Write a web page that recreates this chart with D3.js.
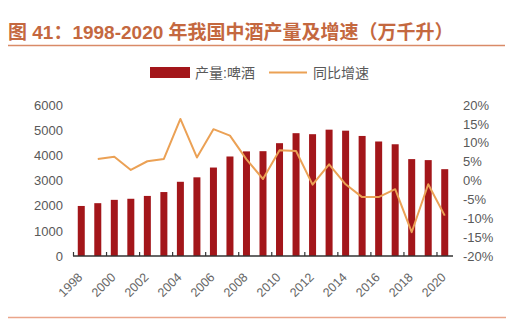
<!DOCTYPE html>
<html>
<head>
<meta charset="utf-8">
<script src="https://cdn.jsdelivr.net/npm/d3@7"></script>
<style>
  html, body { margin: 0; padding: 0; background: #fff; }
  svg { display: block; }
</style>
</head>
<body>
<svg id="chart" width="510" height="328"></svg>
<script>
// Beer output (万千升) and year-on-year growth (%), 1998–2020
const years = d3.range(1998, 2021).map(String);
const output = [1988, 2099, 2231, 2274, 2387, 2541, 2949, 3126, 3515, 3954, 4157, 4165,
                4483, 4880, 4840, 5020, 4980, 4770, 4550, 4440, 3850, 3810, 3450];
const growth = [null, 5.7, 6.3, 2.8, 5.1, 5.7, 16.3, 6.1, 13.6, 11.9, 5.6, 0.4,
                8.0, 7.8, -1.1, 4.3, -1.0, -4.4, -4.4, -2.3, -13.7, -1.0, -9.3];
const leftTicks = [0, 1000, 2000, 3000, 4000, 5000, 6000];
const rightTicks = [20, 15, 10, 5, 0, -5, -10, -15, -20];
const xLabels = years.filter((y, i) => i % 2 === 0);

const svg = d3.select("#chart");
const cjk = "'Liberation Sans', Arial, 'Noto Sans CJK SC', sans-serif";

// Title and rules
svg.append("text")
  .attr("x", 8).attr("y", 39)
  .attr("font-family", cjk).attr("font-size", 19).attr("font-weight", "bold")
  .attr("fill", "#c4683f")
  .text("图 41：1998-2020 年我国中酒产量及增速（万千升）");
svg.append("line").attr("x1", 8).attr("x2", 505).attr("y1", 45.5).attr("y2", 45.5)
  .attr("stroke", "#d98a67").attr("stroke-width", 1.5);
svg.append("line").attr("x1", 8).attr("x2", 506).attr("y1", 317.5).attr("y2", 317.5)
  .attr("stroke", "#eaa58a").attr("stroke-width", 1.5);

// Scales
const x = d3.scaleBand().domain(years).range([73, 453]).padding(0);
const yL = d3.scaleLinear().domain([0, 6000]).range([256, 105]);
const yR = d3.scaleLinear().domain([-20, 20]).range([256, 105]);

const barColor = "#a3161a";
const lineColor = "#eba155";
const textColor = "#595959";

// Bars
const bw = 7;
svg.append("g").selectAll("rect").data(output).join("rect")
  .attr("x", (d, i) => x(years[i]) + x.bandwidth() / 2 - bw / 2)
  .attr("width", bw)
  .attr("y", d => yL(d))
  .attr("height", d => yL(0) - yL(d))
  .attr("fill", barColor);

// Growth line
const line = d3.line()
  .defined(d => d.v !== null)
  .x(d => x(d.year) + x.bandwidth() / 2)
  .y(d => yR(d.v));
svg.append("path")
  .datum(years.map((year, i) => ({ year, v: growth[i] })))
  .attr("d", line)
  .attr("fill", "none")
  .attr("stroke", lineColor)
  .attr("stroke-width", 2)
  .attr("stroke-linejoin", "round");

// Left axis labels
const leftAxis = d3.axisLeft(yL).tickValues(leftTicks).tickSize(0).tickPadding(10)
  .tickFormat(d3.format("d"));
const gL = svg.append("g").attr("transform", "translate(73,0)").call(leftAxis);
gL.select(".domain").remove();
gL.selectAll("text").attr("font-family", cjk).attr("font-size", 13).attr("fill", textColor);

// Right axis labels
const rightAxis = d3.axisRight(yR).tickValues(rightTicks).tickSize(0).tickPadding(10)
  .tickFormat(d => d + "%");
const gR = svg.append("g").attr("transform", "translate(453,0)").call(rightAxis);
gR.select(".domain").remove();
gR.selectAll("text").attr("font-family", cjk).attr("font-size", 13).attr("fill", textColor);

// Bottom axis: baseline, inward ticks every two years, rotated labels
const gX = svg.append("g");
gX.append("line").attr("x1", 73).attr("x2", 453).attr("y1", yL(0)).attr("y2", yL(0))
  .attr("stroke", "#333").attr("stroke-width", 1.5);
gX.selectAll("line.tick").data(xLabels).join("line").attr("class", "tick")
  .attr("x1", d => x(d) + 0.5).attr("x2", d => x(d) + 0.5)
  .attr("y1", yL(0)).attr("y2", yL(0) - 4)
  .attr("stroke", "#333").attr("stroke-width", 1.2);
gX.selectAll("text").data(xLabels).join("text")
  .attr("transform", d => `translate(${x(d) + x.bandwidth() / 2 + 2},${yL(0) + 22}) rotate(-45)`)
  .attr("text-anchor", "end")
  .attr("font-family", cjk).attr("font-size", 12.5).attr("fill", "#666")
  .text(d => d);

// Legend
const lg = svg.append("g");
lg.append("rect").attr("x", 150).attr("y", 67).attr("width", 40).attr("height", 11).attr("fill", barColor);
lg.append("text").attr("x", 195).attr("y", 77.5)
  .attr("font-family", cjk).attr("font-size", 14).attr("fill", textColor).text("产量:啤酒");
lg.append("line").attr("x1", 269).attr("x2", 307).attr("y1", 72.5).attr("y2", 72.5)
  .attr("stroke", lineColor).attr("stroke-width", 2);
lg.append("text").attr("x", 313).attr("y", 77.5)
  .attr("font-family", cjk).attr("font-size", 14).attr("fill", textColor).text("同比增速");
</script>
</body>
</html>
